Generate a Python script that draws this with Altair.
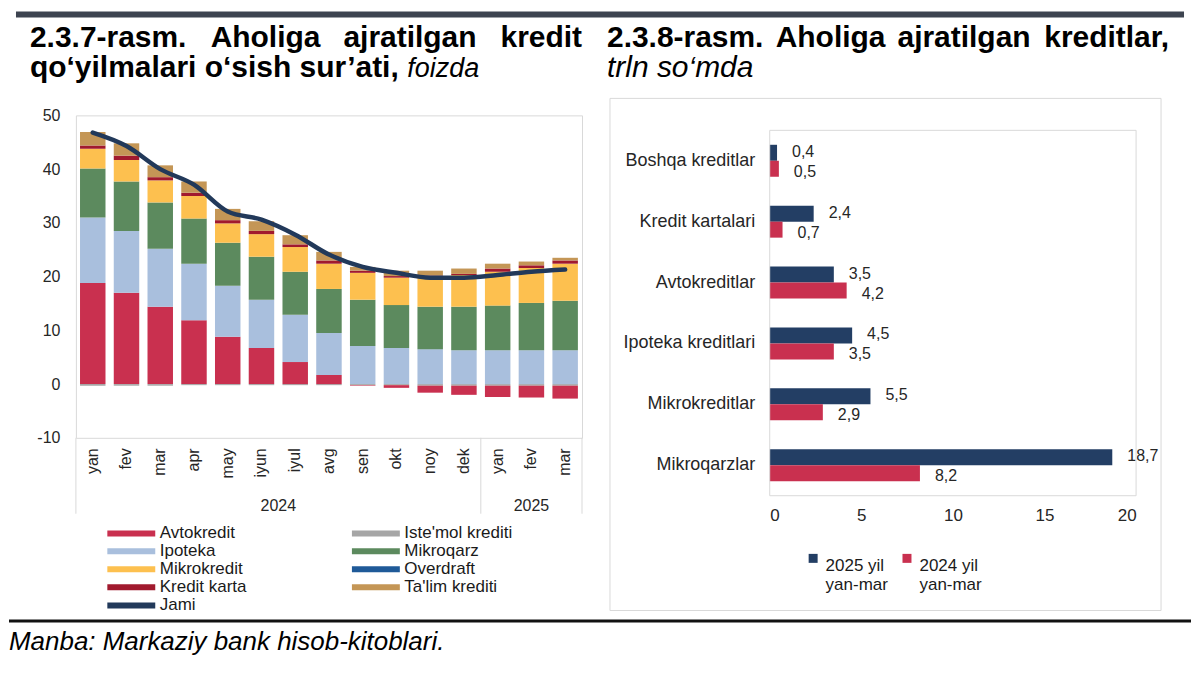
import altair as alt
import pandas as pd

# ---------------- left chart: growth rates (%) ----------------
months = ["yan", "fev", "mar", "apr", "may", "iyun", "iyul", "avg", "sen", "okt", "noy", "dek", "yan", "fev", "mar"]
years = ["2024"] * 12 + ["2025"] * 3

avtokredit = [18.8, 17.0, 14.4, 11.9, 8.8, 6.7, 4.1, 1.7, -0.1, -0.5, -1.3, -1.7, -2.1, -2.2, -2.4]
istemol = [-0.3, -0.3, -0.3, -0.2, -0.2, -0.2, -0.2, -0.2, -0.2, -0.2, -0.3, -0.3, -0.3, -0.3, -0.3]
ipoteka = [12.2, 11.5, 10.8, 10.5, 9.5, 9.0, 8.8, 7.8, 7.1, 6.7, 6.5, 6.3, 6.3, 6.3, 6.3]
mikroqarz = [9.1, 9.2, 8.6, 8.4, 8.0, 8.0, 8.0, 8.2, 8.6, 8.0, 7.9, 8.1, 8.3, 8.8, 9.2]
mikrokredit = [3.7, 4.0, 4.1, 4.2, 3.6, 4.2, 4.6, 4.7, 5.0, 5.1, 5.6, 5.9, 6.3, 6.5, 6.9]
kredit_karta = [0.6, 0.8, 0.6, 0.6, 0.6, 0.6, 0.5, 0.6, 0.4, 0.3, 0.2, 0.2, 0.6, 0.5, 0.6]
overdraft = [0.0, 0.0, 0.0, 0.0, 0.0, 0.0, 0.0, 0.0, 0.0, 0.0, 0.0, 0.0, 0.0, 0.0, 0.0]
talim = [2.5, 2.3, 2.2, 2.1, 2.1, 1.8, 1.7, 1.6, 0.7, 1.0, 0.9, 1.0, 0.9, 0.7, 0.5]
jami = [46.8, 44.3, 40.0, 37.1, 32.1, 30.6, 27.8, 24.1, 21.8, 20.7, 19.8, 19.8, 20.3, 20.9, 21.3]

# legend order (column by column)
left_legend_order = ["Avtokredit", "Ipoteka", "Mikrokredit", "Kredit karta", "Jami",
                     "Iste'mol krediti", "Mikroqarz", "Overdraft", "Ta'lim krediti"]
left_colors = ["#C9304F", "#A9BFDD", "#FDC04F", "#A11A2E", "#22395A",
               "#A6A6A6", "#5C8A5E", "#1F5A98", "#C49656"]

# ---------------- right chart: loans (trln so'm) ----------------
turlar = ["Boshqa kreditlar", "Kredit kartalari", "Avtokreditlar", "Ipoteka kreditlari",
          "Mikrokreditlar", "Mikroqarzlar"]
y2025 = [0.4, 2.4, 3.5, 4.5, 5.5, 18.7]
y2024 = [0.5, 0.7, 4.2, 3.5, 2.9, 8.2]
davrlar = ["2025 yil\nyan-mar", "2024 yil\nyan-mar"]
right_colors = ["#233E64", "#C9304F"]

FONT = "Liberation Sans"

# ---------------- build tables ----------------
periods = [f"{m} {y}" for m, y in zip(months, years)]
stack_series = [("Iste'mol krediti", istemol), ("Avtokredit", avtokredit), ("Ipoteka", ipoteka),
                ("Mikroqarz", mikroqarz), ("Mikrokredit", mikrokredit), ("Kredit karta", kredit_karta),
                ("Overdraft", overdraft), ("Ta'lim krediti", talim)]
rows = []
for rank, (name, vals) in enumerate(stack_series):
    for p, v in zip(periods, vals):
        rows.append({"period": p, "kredit": name, "value": v, "rank": rank})
bars_df = pd.DataFrame(rows)
line_df = pd.DataFrame({"period": periods, "kredit": ["Jami"] * len(periods), "value": jami})

rrows = []
for t, a, b in zip(turlar, y2025, y2024):
    rrows.append({"tur": t, "davr": davrlar[0], "qiymat": a, "yorliq": f"{a:.1f}".replace(".", ",")})
    rrows.append({"tur": t, "davr": davrlar[1], "qiymat": b, "yorliq": f"{b:.1f}".replace(".", ",")})
right_df = pd.DataFrame(rrows)

one = pd.DataFrame({"k": [0]})


def deco_rect(x, x2, y, y2, color):
    return alt.Chart(one).mark_rect(color=color).encode(
        x=alt.value(x), x2=alt.value(x2), y=alt.value(y), y2=alt.value(y2))


def deco_frame(x, x2, y, y2, color="#d9d9d9"):
    return alt.Chart(one).mark_rect(fillOpacity=0, stroke=color, strokeWidth=1).encode(
        x=alt.value(x), x2=alt.value(x2), y=alt.value(y), y2=alt.value(y2))


def deco_rule(x, y, y2, color="#d9d9d9"):
    return alt.Chart(one).mark_rule(color=color, strokeWidth=1).encode(
        x=alt.value(x), y=alt.value(y), y2=alt.value(y2))


def deco_text(text, x, y, size, weight="normal", style="normal", align="left"):
    return alt.Chart(one).mark_text(text=text, fontSize=size, fontWeight=weight, fontStyle=style,
                                    align=align, baseline="alphabetic", color="#000000", font=FONT).encode(
        x=alt.value(x), y=alt.value(y))


TS = 30  # title font size
HALF_GAP = 4.14

# ---------------- left panel ----------------
W_L, H_L = 507, 323

x_scale = alt.Scale(paddingInner=0.245, paddingOuter=0.1225)
x_enc = alt.X("period:N", sort=periods, scale=x_scale,
              axis=alt.Axis(title=None, labelAngle=270, labelExpr="split(datum.value, ' ')[0]",
                            ticks=False, domain=False, labelPadding=10, labelFontSize=16,
                            labelColor="#262626", labelFont=FONT))
y_enc = alt.Y("value:Q", scale=alt.Scale(domain=[-10, 50], nice=False, zero=False),
              axis=alt.Axis(title=None, values=[-10, 0, 10, 20, 30, 40, 50], grid=False, ticks=False,
                            domain=False, labelPadding=16, labelFontSize=16, labelColor="#262626",
                            labelFont=FONT, labelExpr="'' + datum.value"))
color_l = alt.Color("kredit:N", scale=alt.Scale(domain=left_legend_order, range=left_colors),
                    legend=alt.Legend(orient="none", legendX=47, legendY=410, columns=2, title=None,
                                      symbolType="M-4,-0.5L4,-0.5L4,0.5L-4,0.5Z", symbolSize=144,
                                      symbolStrokeWidth=0, labelOffset=20, labelFontSize=17,
                                      labelColor="#1a1a1a", labelFont=FONT, columnPadding=105,
                                      rowPadding=0.1, padding=0, labelLimit=300))

bars_l = alt.Chart(bars_df).mark_bar().encode(
    x=x_enc, y=y_enc, color=color_l, order=alt.Order("rank:Q"))
line_l = alt.Chart(line_df).mark_line(strokeWidth=4.5, interpolate="monotone", strokeCap="round").encode(
    x=alt.X("period:N", sort=periods), y="value:Q", color=alt.Color("kredit:N"))

sep = alt.Chart(pd.DataFrame({"period": ["dek 2024"]})).mark_rule(color="#d9d9d9", xOffset=HALF_GAP).encode(
    x=alt.X("period:N", sort=periods, bandPosition=1), y=alt.value(H_L), y2=alt.value(H_L + 76))
yr24 = alt.Chart(pd.DataFrame({"period": ["iyun 2024"], "yil": ["2024"]})).mark_text(
    fontSize=16, color="#262626", baseline="middle", font=FONT, dx=HALF_GAP).encode(
    x=alt.X("period:N", sort=periods, bandPosition=1), y=alt.value(H_L + 68), text="yil:N")
yr25 = alt.Chart(pd.DataFrame({"period": ["fev 2025"], "yil": ["2025"]})).mark_text(
    fontSize=16, color="#262626", baseline="middle", font=FONT).encode(
    x=alt.X("period:N", sort=periods), y=alt.value(H_L + 68), text="yil:N")

left = alt.layer(
    bars_l, line_l, sep, yr24, yr25,
    deco_rule(0, H_L, H_L + 76), deco_rule(W_L, H_L, H_L + 76),
    # full-width top bar and bottom rule (page-wide decorations)
    deco_rect(-60, 1110, -104, -98, "#3D4450"),
    deco_rect(-67, 1117, 505, 508, "#111111"),
    deco_text("2.3.7-rasm.", -46, -68, TS, weight="bold"),
    deco_text("Aholiga", 135, -68, TS, weight="bold"),
    deco_text("ajratilgan", 268, -68, TS, weight="bold"),
    deco_text("kredit", 507, -68, TS, weight="bold", align="right"),
    deco_text("qo‘yilmalari o‘sish sur’ati,", -46, -38, TS, weight="bold"),
    deco_text("foizda", 332, -38, 27, style="italic"),
    deco_text("Manba: Markaziy bank hisob-kitoblari.", -67, 536, 26, style="italic"),
).properties(width=W_L, height=H_L)

# ---------------- right panel ----------------
# view spans page y 114..495; the framed plot area starts 15px lower
W_R, H_R = 367, 381
TOP_R = 15
xr = alt.X("qiymat:Q", scale=alt.Scale(domain=[0, 20], nice=False),
           axis=alt.Axis(values=[0, 5, 10, 15, 20], title=None, grid=False, ticks=False, domain=False,
                         labelPadding=12, labelFontSize=17, labelColor="#262626", labelFont=FONT))
yr = alt.Y("tur:N", sort=turlar,
           scale=alt.Scale(paddingInner=0.475, paddingOuter=0.3605, align=0.67),
           axis=alt.Axis(title=None, ticks=False, domain=False, labelPadding=15, labelFontSize=18,
                         labelColor="#262626", labelLimit=300, labelFont=FONT))
yo = alt.YOffset("davr:N", sort=davrlar, scale=alt.Scale(paddingInner=0, paddingOuter=0))
color_r = alt.Color("davr:N", scale=alt.Scale(domain=davrlar, range=right_colors),
                    legend=alt.Legend(orient="none", legendX=35, legendY=435, columns=2, title=None,
                                      symbolType="square", symbolSize=81, symbolStrokeWidth=0,
                                      labelOffset=4, labelFontSize=17, labelColor="#1a1a1a",
                                      labelFont=FONT, columnPadding=10, padding=0,
                                      labelExpr="split(datum.label, '\\n')", labelBaseline="top"))

bars_r = alt.Chart(right_df).mark_bar().encode(x=xr, y=yr, yOffset=yo, color=color_r)


def value_labels(davr, dy):
    return alt.Chart(right_df).transform_filter(alt.datum.davr == davr).mark_text(
        align="left", dx=15, dy=dy, fontSize=16, color="#262626", baseline="middle", font=FONT).encode(
        x="qiymat:Q", y=alt.Y("tur:N", sort=turlar), yOffset=alt.YOffset("davr:N", sort=davrlar),
        text="yorliq:N")


right = alt.layer(
    bars_r, value_labels(davrlar[0], -1), value_labels(davrlar[1], 3),
    deco_frame(0, W_R, TOP_R, H_R),
    deco_frame(-160, 392, -17, 496),
    deco_text("2.3.8-rasm.", -163, -68, TS, weight="bold"),
    deco_text("Aholiga", 6, -68, TS, weight="bold"),
    deco_text("ajratilgan", 128, -68, TS, weight="bold"),
    deco_text("kreditlar,", 400, -68, TS, weight="bold", align="right"),
    deco_text("trln so‘mda", -163, -38, TS, style="italic"),
).properties(width=W_R, height=H_R, view=alt.ViewBackground(stroke="transparent"))

chart = alt.hconcat(left, right, spacing=188, bounds="flush").resolve_scale(
    color="independent", x="independent", y="independent"
).properties(padding={"top": 2, "left": 0, "right": 0, "bottom": 0}).configure(
    font=FONT).configure_view(stroke="#d9d9d9", strokeWidth=1)

chart.save("out.html", embed_options={"renderer": "svg", "actions": False})
